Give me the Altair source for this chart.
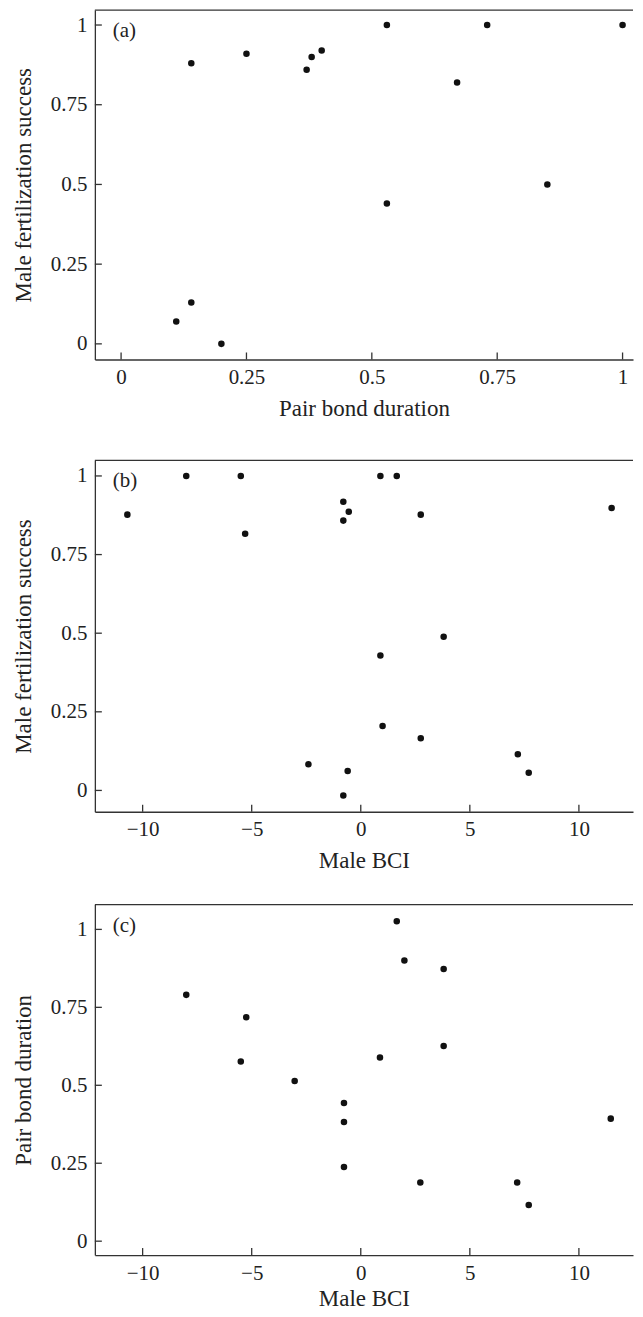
import altair as alt
import pandas as pd

# ---- data ----
# (a) pair bond duration vs male fertilization success
a_pair = [0.14, 0.25, 0.37, 0.38, 0.40, 0.53, 0.73, 1.00, 0.67, 0.53, 0.85, 0.14, 0.11, 0.20]
a_fert = [0.88, 0.91, 0.86, 0.90, 0.92, 1.00, 1.00, 1.00, 0.82, 0.44, 0.50, 0.13, 0.07, 0.00]

# (b) male BCI vs male fertilization success
b_bci = [-10.7, -8.0, -5.5, -5.3, -0.8, -0.55, -0.8, 0.9, 1.65, 2.75,
         11.5, 3.8, 0.9, 1.0, 2.75, -2.4, -0.6, -0.8, 7.2, 7.7]
b_fert = [0.877, 1.0, 1.0, 0.816, 0.918, 0.886, 0.858, 1.0, 1.0, 0.877,
          0.898, 0.489, 0.429, 0.205, 0.166, 0.083, 0.062, -0.016, 0.115, 0.056]

# (c) male BCI vs pair bond duration
c_bci = [1.65, 2.0, 3.8, -8.0, -5.25, -5.5, -3.03, 0.88, 3.8, -0.77,
         -0.77, -0.77, 2.73, 7.17, 7.7, 11.46]
c_pair = [1.026, 0.900, 0.873, 0.790, 0.718, 0.576, 0.514, 0.589, 0.626, 0.443,
          0.382, 0.238, 0.188, 0.188, 0.116, 0.393]

unit_ticks = [0, 0.25, 0.5, 0.75, 1]
bci_ticks = [-10, -5, 0, 5, 10]

FONT = "Liberation Serif, Times New Roman, DejaVu Serif, serif"
INK = "#333333"
TXT = "#222222"
W = 539
TICK = 7
LABEL_EXPR = "replace(toString(datum.value), '-', '\u2212')"


def panel(xs, ys, xdom, ydom, xticks, yticks, xtitle, ytitle, tag, h, xtp=10):
    df = pd.DataFrame({"x": xs, "y": ys})
    xsc = alt.Scale(domain=xdom, nice=False, zero=False)
    ysc = alt.Scale(domain=ydom, nice=False, zero=False)
    xax = alt.Axis(values=xticks, title=xtitle, labelExpr=LABEL_EXPR, labelPadding=7,
                   titlePadding=xtp, tickSize=0, ticks=False)
    yax = alt.Axis(values=yticks, title=ytitle, labelExpr=LABEL_EXPR, labelPadding=8,
                   titlePadding=15, tickSize=0, ticks=False)

    pts = alt.Chart(df).mark_circle(size=43, color="#111111", opacity=1).encode(
        x=alt.X("x:Q", scale=xsc, axis=xax),
        y=alt.Y("y:Q", scale=ysc, axis=yax),
    )
    xt = alt.Chart(pd.DataFrame({"x": xticks})).mark_rule(
        color=INK, strokeWidth=1.3).encode(
        x=alt.X("x:Q", scale=xsc, axis=xax),
        y=alt.value(h), y2=alt.value(h - TICK),
    )
    yt = alt.Chart(pd.DataFrame({"y": yticks})).mark_rule(
        color=INK, strokeWidth=1.3).encode(
        y=alt.Y("y:Q", scale=ysc, axis=yax),
        x=alt.value(0), x2=alt.value(TICK),
    )
    # top frame line (the right side of the frame lies beyond the figure edge)
    top = alt.Chart(pd.DataFrame({"t": [tag]})).mark_rule(
        color=INK, strokeWidth=1.3).encode(
        x=alt.value(0), x2=alt.value(W), y=alt.value(0),
    )
    lab = alt.Chart(pd.DataFrame({"t": [tag]})).mark_text(
        font=FONT, fontSize=21, color=TXT, align="left", baseline="middle"
    ).encode(x=alt.value(18), y=alt.value(21), text="t:N")
    return alt.layer(pts, xt, yt, top, lab).properties(width=W, height=h)


pa = panel(a_pair, a_fert, [-0.0523, 1.0208], [-0.049, 1.047], unit_ticks, unit_ticks,
           "Pair bond duration", "Male fertilization success", "(a)", 350)
pb = panel(b_bci, b_fert, [-12.19, 12.48], [-0.0678, 1.0497], bci_ticks, unit_ticks,
           "Male BCI", "Male fertilization success", "(b)", 352)
pc = panel(c_bci, c_pair, [-12.19, 12.48], [-0.0445, 1.0795], bci_ticks, unit_ticks,
           "Male BCI", "Pair bond duration", "(c)", 351, xtp=5)

chart = alt.vconcat(pa, alt.vconcat(pb, pc, spacing=29), spacing=37).properties(
    padding={"left": 3, "top": -1, "right": 0, "bottom": 0}
).configure_view(
    stroke="transparent"
).configure_axis(
    domainColor=INK, domainWidth=1.3, grid=False,
    labelFont=FONT, labelFontSize=21, labelColor=TXT,
    titleFont=FONT, titleFontSize=23, titleFontWeight="normal", titleColor=TXT,
)

chart.save("out.html", embed_options={"renderer": "svg", "actions": False})
